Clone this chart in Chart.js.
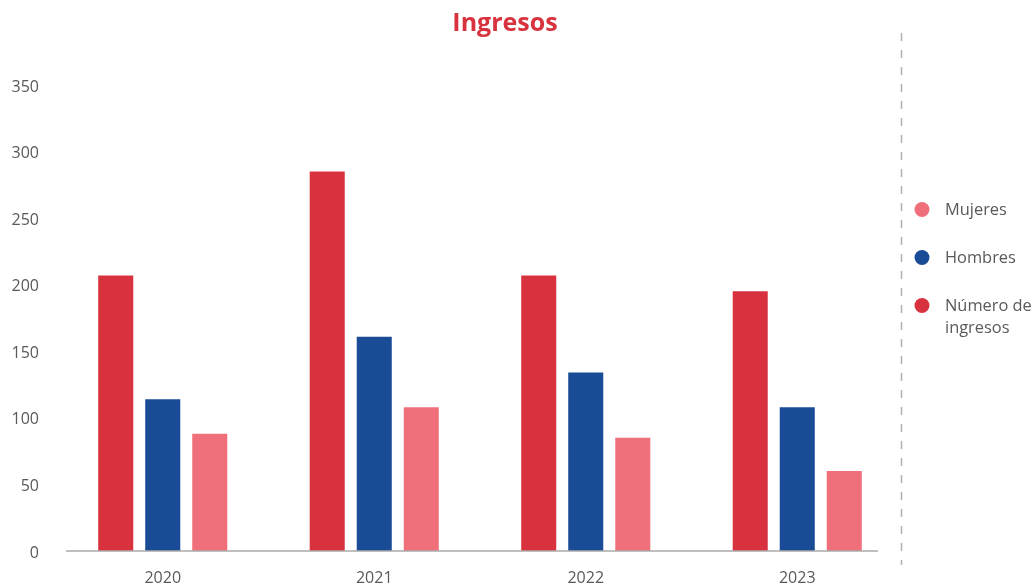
<!DOCTYPE html>
<html>
<head>
<meta charset="utf-8">
<script src="https://cdn.jsdelivr.net/npm/chart.js@4/dist/chart.umd.min.js"></script>
<style>
  html, body { margin: 0; padding: 0; background: #ffffff; }
  #wrap { width: 1034px; height: 585px; position: relative; }
</style>
</head>
<body>
<div id="wrap"><canvas id="c"></canvas></div>
<script>
const categories = ['2020', '2021', '2022', '2023'];
const numeroIngresos = [207, 285, 207, 195];
const hombres = [114, 161, 134, 108];
const mujeres = [88, 108, 85, 60];
const yTicks = [0, 50, 100, 150, 200, 250, 300, 350];
const seriesLabels = ['Número de ingresos', 'Hombres', 'Mujeres'];
const seriesColors = ['#D7323E', '#194B96', '#EF707B'];

const FONT = "'Open Sans', 'Noto Sans', sans-serif";
const TEXT_GRAY = '#595959';

const decorPlugin = {
  id: 'decor',
  afterLayout(chart) {
    const t = chart.titleBlock;
    if (t) { t.left = 0; t.right = chart.width - 24; }
  },
  afterDraw(chart) {
    const ctx = chart.ctx;
    const ca = chart.chartArea;
    const y0 = chart.scales.y.getPixelForValue(0);
    ctx.save();
    // baseline
    ctx.strokeStyle = '#aaaaaa';
    ctx.lineWidth = 1.5;
    ctx.beginPath();
    ctx.moveTo(ca.left + 9, y0);
    ctx.lineTo(ca.right - 25, y0);
    ctx.stroke();
    // dashed separator
    const sx = Math.round(ca.right - 2) + 0.5;
    ctx.setLineDash([8, 9]);
    ctx.lineWidth = 1.5;
    ctx.strokeStyle = '#b0b0b0';
    ctx.beginPath();
    ctx.moveTo(sx, 33);
    ctx.lineTo(sx, 565);
    ctx.stroke();
    ctx.setLineDash([]);
    // legend (reverse dataset order)
    ctx.font = '16.4px ' + FONT;
    ctx.textBaseline = 'middle';
    ctx.textAlign = 'left';
    const cx = ca.right + 19;
    const tx = ca.right + 42;
    const maxW = chart.width - tx + 2;
    let y = 209.5;
    const ds = chart.data.datasets.slice().reverse();
    ds.forEach((d) => {
      ctx.fillStyle = d.backgroundColor;
      ctx.beginPath();
      ctx.arc(cx, y, 7.5, 0, Math.PI * 2);
      ctx.fill();
      const words = d.label.split(' ');
      const lines = [];
      let cur = '';
      words.forEach(w => {
        const test = cur ? cur + ' ' + w : w;
        if (ctx.measureText(test).width > maxW && cur) { lines.push(cur); cur = w; }
        else cur = test;
      });
      if (cur) lines.push(cur);
      ctx.fillStyle = TEXT_GRAY;
      lines.forEach((ln, i) => ctx.fillText(ln, tx, y + 1 + i * 22));
      y += 48;
    });
    ctx.restore();
  }
};

new Chart(document.getElementById('c'), {
  type: 'bar',
  data: {
    labels: categories,
    datasets: [
      { label: seriesLabels[0], data: numeroIngresos, backgroundColor: seriesColors[0] },
      { label: seriesLabels[1], data: hombres, backgroundColor: seriesColors[1] },
      { label: seriesLabels[2], data: mujeres, backgroundColor: seriesColors[2] }
    ]
  },
  options: {
    responsive: true,
    maintainAspectRatio: false,
    animation: false,
    datasets: { bar: { categoryPercentage: 0.667, barPercentage: 0.745 } },
    layout: { padding: { left: 0, right: 131, top: 0, bottom: 0 } },
    plugins: {
      legend: { display: false },
      tooltip: { enabled: false },
      title: {
        display: true,
        text: 'Ingresos',
        color: '#D7323E',
        font: { family: FONT, size: 25, weight: 'bold' },
        padding: { top: 9, bottom: 46 }
      }
    },
    scales: {
      x: {
        grid: { display: false, drawTicks: false },
        border: { display: false },
        ticks: { color: TEXT_GRAY, font: { family: FONT, size: 16 }, padding: 18 },
        afterFit(s) { s.height = 34; }
      },
      y: {
        min: 0,
        max: 350,
        grid: { display: false, drawTicks: false },
        border: { display: false },
        afterBuildTicks(s) { s.ticks = yTicks.map(v => ({ value: v })); },
        ticks: { color: TEXT_GRAY, font: { family: FONT, size: 16 }, padding: 18, labelOffset: 2 },
        afterFit(s) { s.width = 57; }
      }
    }
  },
  plugins: [decorPlugin]
});
</script>
</body>
</html>
